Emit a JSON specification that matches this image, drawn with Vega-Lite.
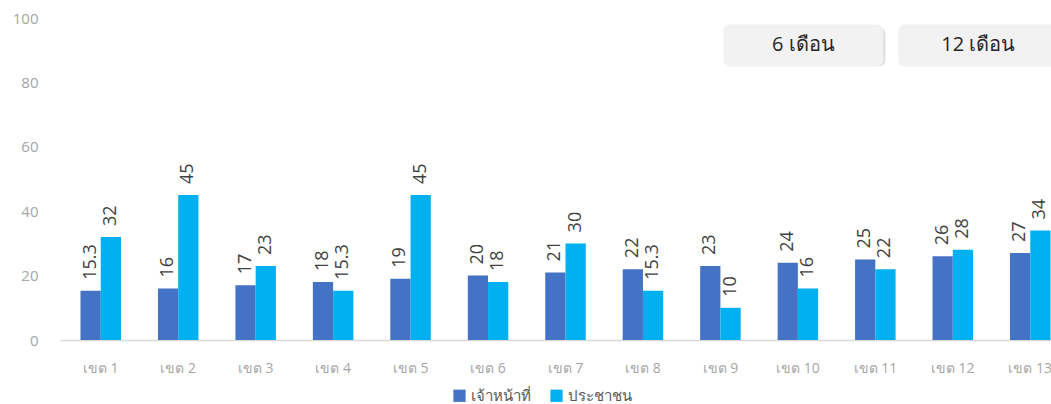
{
  "$schema": "https://vega.github.io/schema/vega-lite/v6.json",
  "autosize": {"type": "none"},
  "padding": {"left": 60, "top": 18, "right": 0, "bottom": 64},
  "width": 1011,
  "height": 322,
  "background": "white",
  "config": {
    "view": {"stroke": null},
    "font": "Open Sans"
  },
  "datasets": {
    "bars": [
      {"zone": "เขต 1", "series": "เจ้าหน้าที่", "value": 15.3, "label": "15.3"},
      {"zone": "เขต 1", "series": "ประชาชน", "value": 32, "label": "32"},
      {"zone": "เขต 2", "series": "เจ้าหน้าที่", "value": 16, "label": "16"},
      {"zone": "เขต 2", "series": "ประชาชน", "value": 45, "label": "45"},
      {"zone": "เขต 3", "series": "เจ้าหน้าที่", "value": 17, "label": "17"},
      {"zone": "เขต 3", "series": "ประชาชน", "value": 23, "label": "23"},
      {"zone": "เขต 4", "series": "เจ้าหน้าที่", "value": 18, "label": "18"},
      {"zone": "เขต 4", "series": "ประชาชน", "value": 15.3, "label": "15.3"},
      {"zone": "เขต 5", "series": "เจ้าหน้าที่", "value": 19, "label": "19"},
      {"zone": "เขต 5", "series": "ประชาชน", "value": 45, "label": "45"},
      {"zone": "เขต 6", "series": "เจ้าหน้าที่", "value": 20, "label": "20"},
      {"zone": "เขต 6", "series": "ประชาชน", "value": 18, "label": "18"},
      {"zone": "เขต 7", "series": "เจ้าหน้าที่", "value": 21, "label": "21"},
      {"zone": "เขต 7", "series": "ประชาชน", "value": 30, "label": "30"},
      {"zone": "เขต 8", "series": "เจ้าหน้าที่", "value": 22, "label": "22"},
      {"zone": "เขต 8", "series": "ประชาชน", "value": 15.3, "label": "15.3"},
      {"zone": "เขต 9", "series": "เจ้าหน้าที่", "value": 23, "label": "23"},
      {"zone": "เขต 9", "series": "ประชาชน", "value": 10, "label": "10"},
      {"zone": "เขต 10", "series": "เจ้าหน้าที่", "value": 24, "label": "24"},
      {"zone": "เขต 10", "series": "ประชาชน", "value": 16, "label": "16"},
      {"zone": "เขต 11", "series": "เจ้าหน้าที่", "value": 25, "label": "25"},
      {"zone": "เขต 11", "series": "ประชาชน", "value": 22, "label": "22"},
      {"zone": "เขต 12", "series": "เจ้าหน้าที่", "value": 26, "label": "26"},
      {"zone": "เขต 12", "series": "ประชาชน", "value": 28, "label": "28"},
      {"zone": "เขต 13", "series": "เจ้าหน้าที่", "value": 27, "label": "27"},
      {"zone": "เขต 13", "series": "ประชาชน", "value": 34, "label": "34"}
    ],
    "buttons": [
      {"button": "6 เดือน", "zone": "เขต 10"},
      {"button": "12 เดือน", "zone": "เขต 12"}
    ]
  },
  "encoding": {
    "x": {
      "field": "zone", "type": "nominal", "sort": null,
      "scale": {"paddingInner": 0.477, "paddingOuter": 0.2645},
      "axis": {
        "title": null, "labelAngle": 0, "ticks": false, "labelPadding": 21,
        "labelColor": "#a6a6a6", "labelFontSize": 14, "labelFont": "Open Sans",
        "domainColor": "#d9d9d9", "domainWidth": 1.5
      }
    }
  },
  "layer": [
    {
      "data": {"name": "bars"},
      "mark": {"type": "bar"},
      "encoding": {
        "xOffset": {"field": "series", "type": "nominal", "sort": ["เจ้าหน้าที่", "ประชาชน"], "scale": {"domain": ["เจ้าหน้าที่", "ประชาชน"], "paddingInner": 0, "paddingOuter": 0}},
        "y": {
          "field": "value", "type": "quantitative",
          "scale": {"domain": [0, 100]},
          "axis": {
            "title": null, "values": [0, 20, 40, 60, 80, 100], "grid": false,
            "domain": false, "ticks": false, "labelPadding": 22,
            "labelColor": "#a6a6a6", "labelFontSize": 15
          }
        },
        "color": {
          "field": "series", "type": "nominal",
          "scale": {"domain": ["เจ้าหน้าที่", "ประชาชน"], "range": ["#4472C4", "#00B0F0"]},
          "legend": {
            "title": null, "orient": "none", "direction": "horizontal",
            "legendX": 392, "legendY": 370,
            "symbolType": "square", "symbolSize": 150, "symbolStrokeWidth": 0,
            "labelFontSize": 15, "labelColor": "#595959", "columnPadding": 18
          }
        }
      }
    },
    {
      "data": {"name": "bars"},
      "mark": {"type": "text", "angle": 270, "align": "left", "baseline": "middle", "dx": 11, "fontSize": 18, "color": "#404040"},
      "encoding": {
        "xOffset": {"field": "series", "type": "nominal", "sort": ["เจ้าหน้าที่", "ประชาชน"]},
        "y": {"field": "value", "type": "quantitative"},
        "text": {"field": "label"}
      }
    },
    {
      "data": {"name": "buttons"},
      "mark": {"type": "bar", "width": 160, "fill": "#c8c8c8", "opacity": 0.6, "cornerRadius": 6, "xOffset": {"expr": "datum.button == '12 เดือน' ? 27.5 : 7.5"}, "yOffset": 3},
      "encoding": {
        "y": {"datum": 98},
        "y2": {"datum": 85}
      }
    },
    {
      "data": {"name": "buttons"},
      "mark": {"type": "bar", "width": 160, "fill": "#f2f2f2", "cornerRadius": 6, "xOffset": {"expr": "datum.button == '12 เดือน' ? 25.5 : 5.5"}},
      "encoding": {
        "y": {"datum": 98},
        "y2": {"datum": 85}
      }
    },
    {
      "data": {"name": "buttons"},
      "mark": {"type": "text", "fontSize": 20, "color": "#262626", "baseline": "middle", "dx": {"expr": "datum.button == '12 เดือน' ? 25.5 : 5.5"}},
      "encoding": {
        "y": {"datum": 91.6},
        "text": {"field": "button"}
      }
    }
  ]
}
